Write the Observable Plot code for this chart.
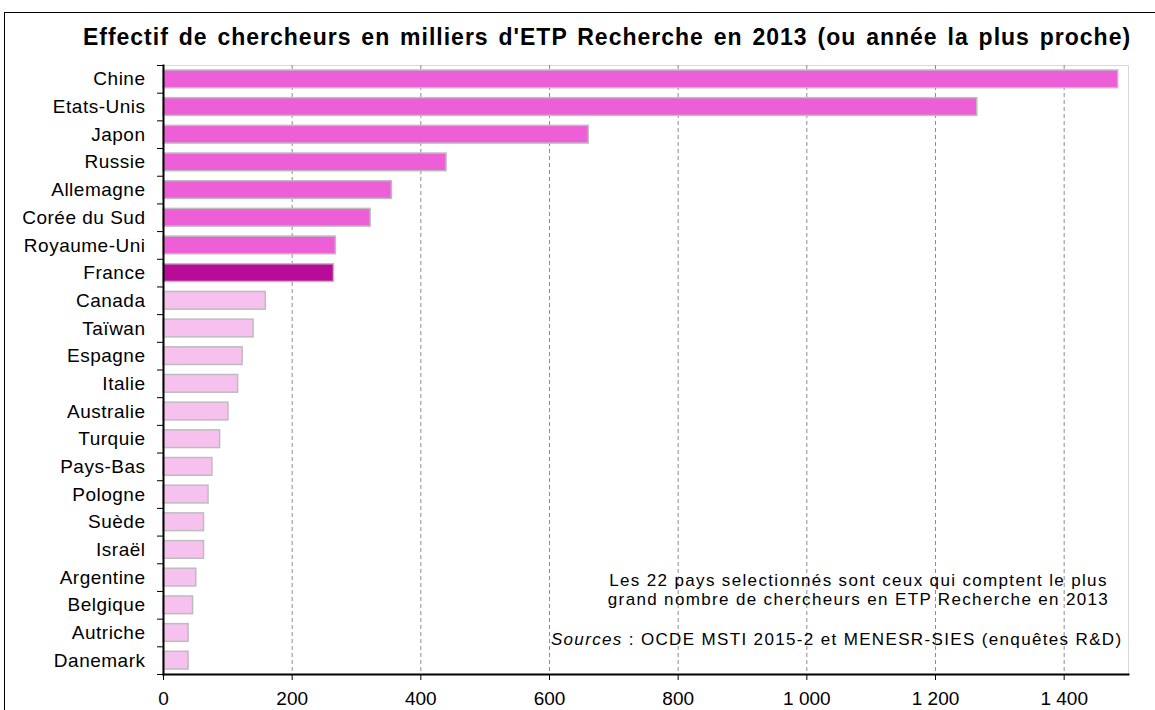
<!DOCTYPE html>
<html><head><meta charset="utf-8">
<script src="https://cdn.jsdelivr.net/npm/d3@7"></script>
<script src="https://cdn.jsdelivr.net/npm/@observablehq/plot@0.6"></script>
<style>
html,body{margin:0;padding:0;background:#fff;overflow:hidden;width:1155px;height:710px;}
#wrap{position:relative;width:1155px;height:710px;overflow:hidden;}
#chart svg{display:block;}
#border{position:absolute;left:4px;top:12px;width:1200px;height:800px;border:1px solid #000;pointer-events:none;}
</style></head><body><div id="wrap"><div id="chart"></div><div id="border"></div></div>
<script>
const countries = ["Chine","Etats-Unis","Japon","Russie","Allemagne","Corée du Sud","Royaume-Uni","France","Canada","Taïwan","Espagne","Italie","Australie","Turquie","Pays-Bas","Pologne","Suède","Israël","Argentine","Belgique","Autriche","Danemark"];
const values = [1484,1265,661,440,355,322,268,265,159,140,123,116,101,88,76,70,63,63,51,46,39,39];
const groups = ["top","top","top","top","top","top","top","France","autre","autre","autre","autre","autre","autre","autre","autre","autre","autre","autre","autre","autre","autre"];
const xTicks = [0,200,400,600,800,1000,1200,1400];
const titleText = "Effectif de chercheurs en milliers d'ETP Recherche en 2013 (ou année la plus proche)";
const noteText = "Les 22 pays selectionnés sont ceux qui comptent le plus\ngrand nombre de chercheurs en ETP Recherche en 2013";
const sourceText = "Sources : OCDE MSTI 2015-2 et MENESR-SIES (enquêtes R&D)";

const data = countries.map((c,i)=>({country:c, value:values[i], group:groups[i]}));
const W=1155, H=710, mT=65, mR=27, mB=36, mL=163;
const step = (H-mT-mB)/countries.length;
const fr = d3.formatLocale({decimal:",", thousands:"\u00a0", grouping:[3], currency:["","€"]}).format(",d");

const chart = Plot.plot({
  width:W, height:H, marginTop:mT, marginRight:mR, marginBottom:mB, marginLeft:mL,
  style:{fontFamily:"'Liberation Sans', Arial, sans-serif", fontSize:"19px", background:"#fff", color:"#000", overflow:"visible"},
  x:{domain:[0,1500], axis:null},
  y:{domain:countries, paddingInner:0.36, paddingOuter:0.18, round:false, axis:null},
  color:{domain:["top","France","autre"], range:["#ec5fd7","#b80c98","#f6c1ee"]},
  marks:[
    Plot.frame({stroke:"#d9d9d9"}),
    Plot.gridX({ticks:xTicks.filter(d=>d>0), stroke:"#8c8c8c", strokeOpacity:1, strokeDasharray:"4,3"}),
    Plot.barX(data,{x:"value", y:"country", fill:"group", stroke:"#bdbdbd", strokeWidth:1.5}),
    Plot.frame({anchor:"left", stroke:"#000", strokeWidth:2}),
    Plot.frame({anchor:"bottom", stroke:"#000", strokeWidth:2}),
    Plot.axisY({tickSize:0, tickPadding:18, fontSize:19, label:null}),
    Plot.axisY({tickSize:6, tickFormat:()=>"", dy:-step/2, label:null}),
    Plot.axisY({ticks:[countries[countries.length-1]], tickSize:6, tickFormat:()=>"", dy:step/2, label:null}),
    Plot.axisX({ticks:xTicks, tickSize:6, tickPadding:11, tickFormat:fr, fontSize:19, label:null}),
    Plot.text([titleText],{frameAnchor:"top", dx:-39, dy:-21, lineAnchor:"bottom", fontWeight:"bold", fontSize:23}),
    Plot.text([noteText],{frameAnchor:"bottom-right", dx:-270, dy:-70, lineAnchor:"bottom", textAnchor:"middle", fontSize:17, lineHeight:1.07}),
    Plot.text([sourceText],{frameAnchor:"bottom-right", dx:-6, dy:-30, lineAnchor:"bottom", textAnchor:"end", fontSize:17})
  ]
});
document.getElementById("chart").appendChild(chart);
const svg = d3.select(chart);
svg.selectAll("text").each(function(){
  const t = d3.select(this);
  const s = t.text();
  if (s === sourceText) {
    t.text("");
    t.append("tspan").attr("font-style","italic").text("Sources");
    t.append("tspan").text(sourceText.slice(7));
    t.style("letter-spacing","1.35px");
  } else if (s === titleText) {
    t.style("letter-spacing","1px").style("word-spacing","2.5px");
  } else if (s.startsWith("Les 22") || s.startsWith("grand")) {
    t.style("letter-spacing","1.35px");
  } else if (countries.includes(s)) {
    t.style("letter-spacing","0.5px");
  }
});
</script></body></html>
